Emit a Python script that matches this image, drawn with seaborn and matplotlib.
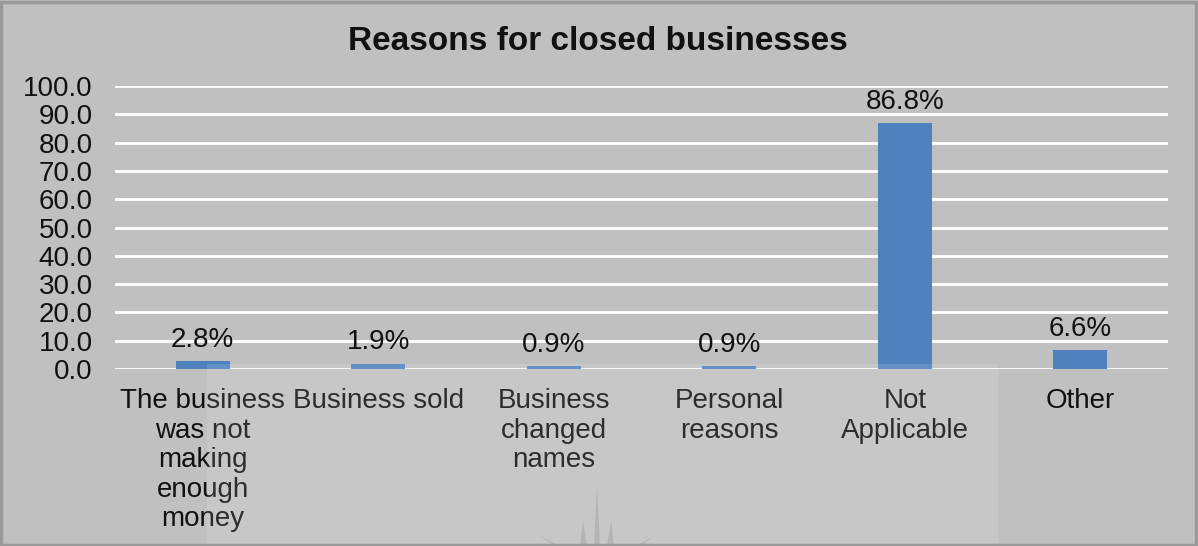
import matplotlib
matplotlib.use("Agg")
import matplotlib.pyplot as plt
from matplotlib.patches import Rectangle, Polygon
import seaborn as sns
import pandas as pd

categories = [
    "The business\nwas not\nmaking\nenough\nmoney",
    "Business sold",
    "Business\nchanged\nnames",
    "Personal\nreasons",
    "Not\nApplicable",
    "Other",
]
percentages = [2.8, 1.9, 0.9, 0.9, 86.8, 6.6]
y_ticks = [0, 10, 20, 30, 40, 50, 60, 70, 80, 90, 100]

df = pd.DataFrame({"reason": categories, "pct": percentages})

BG = "#c0c0c0"
BAR = "#4f81bd"
TXT = "#111111"

sns.set_theme(style="white")
plt.rcParams["font.family"] = ["Liberation Sans", "DejaVu Sans"]

fig = plt.figure(figsize=(11.98, 5.46), dpi=100, facecolor=BG)
ax = fig.add_axes([115 / 1198, 1 - 369 / 546, (1168 - 115) / 1198, (369 - 86) / 546])
ax.set_facecolor(BG)

sns.barplot(data=df, x="reason", y="pct", color=BAR, width=0.31,
            saturation=1, linewidth=0, ax=ax, zorder=3)

ax.set_ylim(0, 100)
ax.set_xlim(-0.5, len(categories) - 0.5)
ax.set_yticks(y_ticks)
ax.set_yticklabels([f"{v:.1f}" for v in y_ticks], fontsize=20, color=TXT)
ax.tick_params(axis="y", length=0, pad=16)
ax.tick_params(axis="x", length=0, pad=14)
for lbl in ax.get_xticklabels():
    lbl.set_fontsize(20)
    lbl.set_color(TXT)
    lbl.set_linespacing(1.17)
    lbl.set_verticalalignment("top")
ax.set_xlabel("")
ax.set_ylabel("")

# horizontal white gridlines
ax.yaxis.grid(True, color="white", linewidth=2, zorder=1)
ax.set_axisbelow(True)
for s in ax.spines.values():
    s.set_visible(False)

# value labels above each bar
for i, v in enumerate(percentages):
    ax.annotate(f"{v}%", xy=(i, v), xytext=(0, 6), textcoords="offset points",
                ha="center", va="bottom", fontsize=20, color=TXT, zorder=5)

fig.text(598 / 1198, 1 - 42 / 546, "Reasons for closed businesses",
         ha="center", va="center", fontsize=24, fontweight="bold", color=TXT)

# faint lighter panel and spikes in the lower background
fig.patches.append(Rectangle((207 / 1198, 0), (998 - 207) / 1198, (546 - 364) / 546,
                             transform=fig.transFigure, facecolor="white",
                             alpha=0.12, edgecolor="none", zorder=4))
spikes = [
    [(594, 546), (597, 484), (600, 546)],
    [(580, 546), (583, 520), (587, 546)],
    [(607, 546), (611, 520), (614, 546)],
    [(555, 546), (540, 536), (560, 546)],
    [(635, 546), (655, 536), (640, 546)],
]
for pts in spikes:
    fig.patches.append(Polygon([(x / 1198, 1 - y / 546) for x, y in pts],
                               closed=True, transform=fig.transFigure,
                               facecolor="#a8a8a8", edgecolor="none", alpha=0.6, zorder=4))

# outer frame
fig.patches.append(Rectangle((0.001, 0.002), 0.997, 0.995, transform=fig.transFigure,
                             facecolor="none", edgecolor="#9a9a9a", linewidth=2.5, zorder=10))

fig.savefig("out.png", dpi=100, facecolor=BG)
